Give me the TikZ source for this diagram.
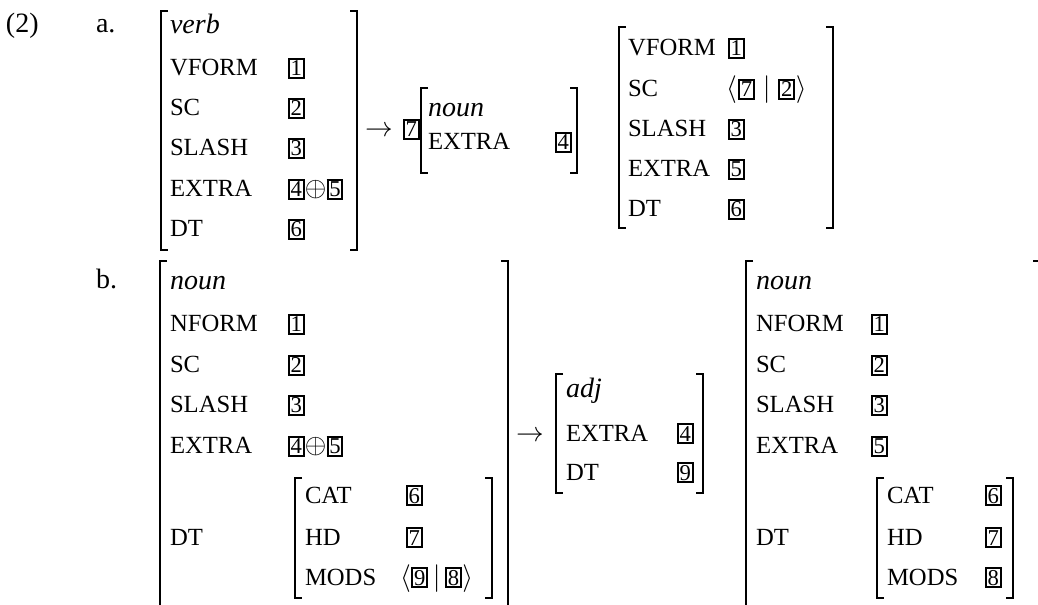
\documentclass[tikz,border=0pt]{standalone}
\usepackage{fontspec}
\setmainfont{Liberation Serif}
\newcommand{\bx}[1]{{\setlength{\fboxsep}{0.5pt}\setlength{\fboxrule}{1.5pt}\fbox{\fontsize{17}{17}\selectfont #1}}}
\begin{document}
\begin{tikzpicture}[x=0.75pt,y=-0.75pt,
  txt/.style={anchor=base west,inner sep=0pt,outer sep=0pt,font=\fontsize{18.5}{20}\selectfont},
  big/.style={anchor=base west,inner sep=0pt,outer sep=0pt,font=\fontsize{21}{23}\selectfont},
  brk/.style={line width=1.5pt}]
\useasboundingbox (0,0) rectangle (1038,605);
% ---------- (2) a.
\node[big] (num) at (6,33) {(2)};
\node[big] (la) at (96,33) {a.};
% matrix a1
\draw[brk] (168,11) -- (161,11) -- (161,250) -- (168,250);
\draw[brk] (350,11) -- (357,11) -- (357,250) -- (350,250);
\node[big] (a1t) at (170,34) {\textit{verb}};
\node[txt] (a1l1) at (170,76) {VFORM};
\node[txt] (a1l2) at (170,116) {SC};
\node[txt] (a1l3) at (170,156) {SLASH};
\node[txt] (a1l4) at (170,197) {EXTRA};
\node[txt] (a1l5) at (170,237) {DT};
\node[big] (a1v1) at (288,76) {\bx1};
\node[big] (a1v2) at (288,116) {\bx2};
\node[big] (a1v3) at (288,156) {\bx3};
\node[big] (a1v4) at (288,197) {\bx4\kern0.2pt$\oplus$\kern0.2pt\bx5};
\node[big] (a1v5) at (288,237) {\bx6};
% arrow a
\node[big] (arra) at (365,137) {$\rightarrow$};
\node[big] (a2tag) at (403,137) {\bx7};
% matrix a2
\draw[brk] (428,88) -- (421,88) -- (421,173) -- (428,173);
\draw[brk] (570,88) -- (577,88) -- (577,173) -- (570,173);
\node[big] (a2t) at (428,117) {\textit{noun}};
\node[txt] (a2l1) at (428,150) {EXTRA};
\node[big] (a2v1) at (555,150) {\bx4};
% matrix a3
\draw[brk] (626,27) -- (619,27) -- (619,228) -- (626,228);
\draw[brk] (826,27) -- (833,27) -- (833,228) -- (826,228);
\node[txt] (a3l1) at (628,56) {VFORM};
\node[txt] (a3l2) at (628,97) {SC};
\node[txt] (a3l3) at (628,137) {SLASH};
\node[txt] (a3l4) at (628,177) {EXTRA};
\node[txt] (a3l5) at (628,217) {DT};
\node[big] (a3v1) at (728,56) {\bx1};
\node[big] (a3v2) at (726,97) {$\langle$\kern1pt\bx7\kern6pt$|$\kern6pt\bx2\kern0.5pt$\rangle$};
\node[big] (a3v3) at (728,137) {\bx3};
\node[big] (a3v4) at (728,177) {\bx5};
\node[big] (a3v5) at (728,217) {\bx6};
% ---------- b.
\node[big] (lb) at (96,289) {b.};
% matrix b1
\draw[brk] (167,261) -- (160,261) -- (160,610);
\draw[brk] (501,261) -- (508,261) -- (508,610);
\node[big] (b1t) at (170,290) {\textit{noun}};
\node[txt] (b1l1) at (170,332) {NFORM};
\node[txt] (b1l2) at (170,373) {SC};
\node[txt] (b1l3) at (170,413) {SLASH};
\node[txt] (b1l4) at (170,454) {EXTRA};
\node[txt] (b1l5) at (170,545) {DT};
\node[big] (b1v1) at (288,332) {\bx1};
\node[big] (b1v2) at (288,373) {\bx2};
\node[big] (b1v3) at (288,413) {\bx3};
\node[big] (b1v4) at (288,454) {\bx4\kern0.2pt$\oplus$\kern0.2pt\bx5};
% inner b1
\draw[brk] (302,478) -- (295,478) -- (295,598) -- (302,598);
\draw[brk] (485,478) -- (492,478) -- (492,598) -- (485,598);
\node[txt] (b1il1) at (305,503) {CAT};
\node[txt] (b1il2) at (305,545) {HD};
\node[txt] (b1il3) at (305,585) {MODS};
\node[big] (b1iv1) at (406,503) {\bx6};
\node[big] (b1iv2) at (406,545) {\bx7};
\node[big] (b1iv3) at (400,585) {$\langle$\kern0.5pt\bx9\kern3.5pt$|$\kern3.5pt\bx8\kern0.5pt$\rangle$};
% arrow b
\node[big] (arrb) at (516,441) {$\rightarrow$};
% matrix b2
\draw[brk] (563,374) -- (556,374) -- (556,493) -- (563,493);
\draw[brk] (696,374) -- (703,374) -- (703,493) -- (696,493);
\node[big] (b2t) at (566,398) {\textit{adj}};
\node[txt] (b2l1) at (566,441) {EXTRA};
\node[txt] (b2l2) at (566,480) {DT};
\node[big] (b2v1) at (677,441) {\bx4};
\node[big] (b2v2) at (677,480) {\bx9};
% matrix b3
\draw[brk] (753,261) -- (746,261) -- (746,610);
\draw[brk] (1033,261) -- (1039.5,261) -- (1039.5,610);
\node[big] (b3t) at (756,290) {\textit{noun}};
\node[txt] (b3l1) at (756,332) {NFORM};
\node[txt] (b3l2) at (756,373) {SC};
\node[txt] (b3l3) at (756,413) {SLASH};
\node[txt] (b3l4) at (756,454) {EXTRA};
\node[txt] (b3l5) at (756,545) {DT};
\node[big] (b3v1) at (871,332) {\bx1};
\node[big] (b3v2) at (871,373) {\bx2};
\node[big] (b3v3) at (871,413) {\bx3};
\node[big] (b3v4) at (871,454) {\bx5};
% inner b3
\draw[brk] (884,478) -- (877,478) -- (877,598) -- (884,598);
\draw[brk] (1006,478) -- (1013,478) -- (1013,598) -- (1006,598);
\node[txt] (b3il1) at (887,503) {CAT};
\node[txt] (b3il2) at (887,545) {HD};
\node[txt] (b3il3) at (887,585) {MODS};
\node[big] (b3iv1) at (985,503) {\bx6};
\node[big] (b3iv2) at (985,545) {\bx7};
\node[big] (b3iv3) at (985,585) {\bx8};
\end{tikzpicture}
\end{document}
